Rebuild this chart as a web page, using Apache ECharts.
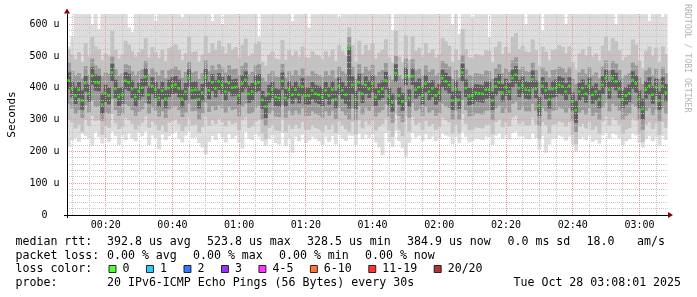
<!DOCTYPE html>
<html><head><meta charset="utf-8">
<script src="https://cdn.jsdelivr.net/npm/echarts@6/dist/echarts.min.js"></script>
<style>html,body{margin:0;padding:0;background:#fff}#c{width:697px;height:297px}</style>
</head><body><div id="c"></div>
<script>
// ---- data ----
const startMinute = 8.4;   // 00:08:24
const stepMinutes = 1;
const median = [
423,397,375,394,360,415,381,438,417,415,
347,383,375,448,397,371,378,422,417,396,
371,390,400,434,378,406,394,368,391,365,
399,406,410,398,365,388,430,392,394,364,
385,431,392,417,397,420,409,388,415,400,
402,375,413,425,381,388,413,417,362,341,
381,394,371,368,422,368,394,378,394,378,
404,375,375,392,381,378,371,392,375,394,
364,406,392,378,524,409,362,417,381,409,
396,413,371,388,396,423,373,354,446,375,
357,436,368,436,394,402,375,413,388,398,
375,385,430,420,409,360,396,362,448,399,
373,375,385,383,381,394,394,360,404,417,
385,402,388,430,441,399,409,394,392,427,
396,343,406,392,364,396,399,409,404,388,
406,357,329,388,399,381,406,378,388,364,
409,430,394,430,420,396,364,375,383,425,
413,364,333,394,406,378,402,360,406,385];
const smokeInnerHi = [
448,421,404,418,392,437,410,465,442,438,
382,410,401,476,425,399,402,449,444,423,
398,416,428,462,404,433,419,397,420,392,
425,433,437,426,394,415,458,418,420,391,
412,459,419,443,424,446,435,415,440,426,
428,402,440,452,407,415,440,443,390,372,
409,420,398,395,448,396,421,405,420,404,
431,402,401,418,408,405,398,419,402,421,
391,433,418,405,528,436,390,444,408,436,
422,440,398,414,423,450,400,382,474,402,
384,463,395,462,420,429,402,440,415,424,
402,412,457,447,436,388,423,390,476,426,
400,401,411,410,408,421,420,388,431,443,
412,429,415,457,468,425,436,421,418,454,
423,372,433,419,392,422,426,436,431,415,
433,385,360,415,426,408,432,405,414,392,
436,457,421,456,447,423,392,402,410,452,
440,392,365,421,433,405,429,388,433,412];
const smokeInnerLo = [
396,370,349,368,331,388,356,410,391,389,
318,355,348,420,368,343,350,396,390,368,
342,363,372,405,350,380,367,340,364,336,
371,380,383,370,338,360,402,364,366,335,
357,402,364,390,370,393,381,360,388,373,
375,347,386,398,353,360,386,390,334,305,
353,367,343,340,394,341,366,350,367,351,
376,347,348,364,353,349,340,365,347,366,
336,378,365,350,335,381,333,389,352,381,
368,386,343,361,368,395,345,325,418,347,
328,408,340,409,366,374,347,386,360,371,
347,357,403,392,382,331,368,334,420,371,
345,348,357,355,353,366,367,331,376,390,
357,374,360,402,413,371,382,366,364,399,
368,312,378,364,335,369,371,381,376,360,
378,328,290,360,371,353,378,350,360,336,
381,402,366,403,392,368,336,347,355,397,
385,335,300,366,378,350,374,331,378,357];
const smokeMidHi = [
480,452,440,446,430,468,441,492,470,462,
436,448,444,498,458,437,445,474,470,452,
440,452,458,484,442,462,450,438,455,430,
455,462,466,455,432,450,482,448,452,428,
446,486,452,470,456,474,464,448,470,458,
460,440,468,480,442,450,470,474,432,420,
444,452,436,434,475,432,452,440,455,440,
462,438,436,452,444,440,434,452,440,455,
430,466,452,444,560,466,428,474,446,466,
454,472,436,450,456,478,438,426,500,440,
428,492,432,490,454,460,440,470,450,458,
440,446,484,476,466,428,456,432,504,458,
440,438,446,444,442,454,452,428,462,474,
446,462,450,486,496,458,466,452,450,480,
456,420,464,452,432,456,458,466,462,448,
464,428,412,448,458,444,464,440,448,430,
466,486,454,484,476,456,432,440,446,480,
470,432,412,454,464,440,462,428,464,446];
const smokeMidLo = [
350,335,318,330,305,345,322,360,340,342,
296,322,318,365,330,312,318,348,342,330,
312,325,332,352,318,338,328,310,326,305,
332,338,342,330,308,322,350,326,328,300,
320,352,324,342,330,345,336,322,340,330,
334,310,340,350,318,322,338,344,300,280,
318,328,310,308,346,306,328,314,328,316,
336,312,312,326,318,314,306,326,312,328,
302,338,326,314,300,336,298,342,316,338,
328,342,310,322,330,348,310,290,360,312,
292,355,306,352,328,334,312,340,322,330,
312,320,350,342,336,300,328,300,362,330,
310,312,320,318,316,328,328,298,336,344,
320,336,322,350,356,330,338,326,326,350,
328,280,336,326,300,328,330,338,334,322,
336,296,260,322,330,316,336,312,322,300,
338,352,326,350,342,328,300,312,318,348,
340,300,268,328,336,314,332,296,336,318];
const smokeWideHi = [
520,505,490,512,482,540,498,560,530,522,
488,508,500,578,520,492,505,548,536,515,
498,512,522,556,496,528,512,494,520,484,
525,530,536,520,488,508,560,512,515,482,
505,564,510,540,520,548,530,508,540,520,
528,495,535,555,500,508,538,545,482,470,
505,515,492,490,550,488,518,500,516,498,
530,496,494,515,504,500,490,515,498,520,
484,534,516,502,590,534,482,548,505,535,
518,540,492,510,520,552,496,478,580,498,
480,565,488,562,516,526,498,540,510,522,
496,506,556,546,532,482,520,488,585,522,
496,494,506,504,500,518,516,482,528,545,
506,528,510,560,572,522,532,514,512,552,
518,470,530,514,486,518,522,534,528,508,
530,480,458,508,522,502,530,498,508,486,
532,560,516,556,546,518,486,498,504,552,
536,486,462,516,530,500,526,482,530,506];
const smokeWideLo = [
300,290,272,285,262,300,280,312,296,298,
252,280,274,318,288,270,276,305,298,286,
268,282,290,310,274,294,284,266,282,262,
290,295,300,286,264,278,306,282,284,258,
276,308,280,298,286,302,292,278,296,286,
290,266,298,306,274,278,294,300,256,238,
274,284,266,264,302,262,284,270,284,272,
292,268,268,282,274,270,262,282,268,284,
258,294,282,270,262,292,254,298,272,294,
284,298,266,278,286,304,266,246,316,268,
248,312,262,308,284,290,268,296,278,286,
268,276,306,298,292,256,284,256,318,286,
266,268,276,274,272,284,284,254,292,300,
276,292,278,306,312,286,294,282,282,306,
284,238,292,282,256,284,286,294,290,278,
292,252,222,278,286,272,292,268,278,256,
294,308,282,306,298,284,256,268,274,304,
296,256,230,284,292,270,288,252,292,274];
const smokeOuterHi = [
530,560,660,660,660,660,660,600,660,585,
660,660,660,660,660,660,660,660,590,575,
660,660,660,660,660,660,610,660,660,660,
660,660,660,660,620,660,660,660,660,660,
660,660,660,610,660,660,600,660,660,660,
660,660,660,660,660,660,660,560,660,660,
660,660,660,660,660,660,660,610,660,660,
660,660,590,660,660,660,660,660,660,660,
660,620,660,660,660,660,660,660,660,660,
660,660,660,660,660,660,660,580,660,660,
660,660,660,660,660,660,660,660,660,660,
660,660,660,660,660,600,660,570,660,660,
660,620,660,660,660,660,560,660,660,660,
660,660,660,660,660,660,660,600,660,660,
660,660,580,660,660,660,660,660,660,600,
660,660,660,660,660,660,660,660,660,660,
660,660,660,660,600,660,660,660,660,660,
660,660,660,660,610,660,660,660,620,660];
const smokeOuterLo = [
215,235,242,230,255,248,238,218,260,245,
225,242,230,262,248,220,250,236,256,240,
232,258,248,262,220,250,240,206,252,235,
248,256,262,240,228,250,262,242,244,226,
212,190,230,248,236,256,244,228,254,240,
248,228,208,262,240,236,254,246,232,218,
240,250,226,222,258,218,240,196,246,232,
252,226,234,246,240,232,220,246,230,248,
222,252,240,232,250,248,220,256,238,252,
242,254,228,212,188,258,230,214,264,232,
210,184,226,258,244,250,232,254,238,246,
232,240,256,250,246,222,246,226,262,246,
228,232,240,238,236,246,244,220,250,256,
240,250,238,258,262,246,248,240,238,256,
242,206,248,196,222,240,242,250,246,234,
246,222,200,238,244,236,250,230,236,224,
250,258,240,256,252,242,220,232,238,256,
250,226,212,240,248,232,246,218,248,236];

const xMajorTicks = [20, 40, 60, 80, 100, 120, 140, 160, 180];
const xTickLabels = ['00:20','00:40','01:00','01:20','01:40','02:00','02:20','02:40','03:00'];
const xMinorTicks = [10,15,25,30,35,45,50,55,65,70,75,85,90,95,105,110,115,125,130,135,145,150,155,165,170,175,185];
const yMajorTicks = [0, 100, 200, 300, 400, 500, 600];
const yTickLabels = ['0  ','100 u','200 u','300 u','400 u','500 u','600 u'];
const yMinorTicks = [20,40,60,80,120,140,160,180,220,240,260,280,320,340,360,380,420,440,460,480,520,540,560,580,620];

const lossLabels = ['0','1','2','3','4-5','6-10','11-19','20/20'];
const lossColors = ['#26ff00','#00b8ff','#0059ff','#7e00ff','#ff00ff','#ff5500','#ff0000','#a10000'];

const medianStatsLabel = 'median rtt:';
const medianStats = ['392.8 us avg','523.8 us max','328.5 us min','384.9 us now','0.0 ms sd','18.0','am/s'];
const lossStatsLabel = 'packet loss:';
const lossStats = ['0.00 % avg','0.00 % max','0.00 % min','0.00 % now'];
const lossColorLabel = 'loss color:';
const probeLabel = 'probe:';
const probeText = '20 IPv6-ICMP Echo Pings (56 Bytes) every 30s';
const dateText = 'Tue Oct 28 03:08:01 2025';
const watermark = 'RRDTOOL / TOBI OETIKER';

// ---- chart ----
const FONT = 'DejaVu Sans Mono';
const times = median.map((_, i) => startMinute + i * stepMinutes);
const xMax = startMinute + median.length * stepMinutes;
const yMax = 632;

function bandSeries(lo, hi, color) {
  return {
    type: 'custom', z: -1, silent: true, animation: false,
    encode: { x: 0, y: [1, 2] },
    data: times.map((t, i) => [t, lo[i], hi[i]]),
    renderItem: function (params, api) {
      const t = api.value(0);
      const p1 = api.coord([t, api.value(2)]);
      const p2 = api.coord([t + stepMinutes, api.value(1)]);
      const cs = params.coordSys;
      const shape = echarts.graphic.clipRectByRect(
        { x: p1[0], y: p1[1], width: p2[0] - p1[0] + 0.6, height: p2[1] - p1[1] },
        { x: cs.x, y: cs.y, width: cs.width, height: cs.height });
      return shape && { type: 'rect', shape: shape, style: { fill: color } };
    }
  };
}

// dotted grid lines, snapped to whole pixels like rrdtool draws them
function gridSeries(values, vertical, color) {
  return {
    type: 'custom', z: 1, silent: true, animation: false,
    encode: { x: 0, y: 1 },
    data: values.map(v => vertical ? [v, 0] : [startMinute, v]),
    renderItem: function (params, api) {
      const cs = params.coordSys;
      const p = api.coord([api.value(0), api.value(1)]);
      let shape;
      if (vertical) {
        const x = Math.floor(p[0]) + 0.5;
        shape = { x1: x, y1: cs.y, x2: x, y2: cs.y + cs.height };
      } else {
        const y = Math.floor(p[1]) + 0.5;
        shape = { x1: cs.x, y1: y, x2: cs.x + cs.width, y2: y };
      }
      return { type: 'line', shape: shape, style: { stroke: color, lineWidth: 1, lineDash: [1, 1] } };
    }
  };
}

const majorColor = '#e99c9c';
const minorColor = '#c6c6c6';
const arrowColor = '#8b0000';

const legendSeries = lossLabels.slice(1).map((name, k) => ({
  type: 'scatter', name: name, data: [], itemStyle: { color: lossColors[k + 1] }
}));

function txt(x, y, text, extra) {
  return Object.assign({ type: 'text', x: x, y: y, silent: true,
    style: { text: text, font: '11.6px "' + FONT + '"', fill: '#000', verticalAlign: 'middle' } }, extra || {});
}
const rowY = [241.5, 255.5, 269, 283];
const medX = [107, 207, 307, 407, 507.5, 586.5, 637];
const lossX = [107, 193, 279, 365];
const graphics = [txt(15.5, rowY[0], medianStatsLabel)];
medianStats.forEach((s, k) => graphics.push(txt(medX[k], rowY[0], s)));
graphics.push(txt(15.5, rowY[1], lossStatsLabel));
lossStats.forEach((s, k) => graphics.push(txt(lossX[k], rowY[1], s)));
graphics.push(txt(15.5, rowY[2], lossColorLabel));
graphics.push(txt(15.5, rowY[3], probeLabel));
graphics.push(txt(107, rowY[3], probeText));
graphics.push(txt(513.5, rowY[3], dateText));
graphics.push({ type: 'text', x: 687, y: 4, rotation: -Math.PI / 2, silent: true,
  style: { text: watermark, font: '8.2px "' + FONT + '"', fill: '#b4b4b4', verticalAlign: 'middle' } });

const chart = echarts.init(document.getElementById('c'), null, { renderer: 'canvas', width: 697, height: 297 });
chart.setOption({
  animation: false,
  backgroundColor: '#ffffff',
  grid: { left: 67, right: 29.5, top: 14, bottom: 82, containLabel: false, outerBoundsMode: 'none' },
  xAxis: [
    { type: 'value', min: startMinute, max: xMax, position: 'bottom', z: 3,
      axisLine: { show: true, onZero: false, lineStyle: { color: '#000', width: 1 } },
      axisTick: { show: true, length: 3, customValues: [startMinute], lineStyle: { color: '#000' } },
      axisLabel: { customValues: xMajorTicks, margin: 5, fontFamily: FONT, fontSize: 10, color: '#000',
        formatter: v => xTickLabels[xMajorTicks.indexOf(Math.round(v))] || '' },
      splitLine: { show: false } },
    { type: 'value', min: startMinute, max: xMax, position: 'bottom', z: 3,
      axisLine: { show: true, onZero: false, lineStyle: { color: arrowColor, width: 0 },
        symbol: ['none', 'triangle'], symbolSize: [6, 5], symbolOffset: [0, 3] },
      axisTick: { show: false }, axisLabel: { show: false }, splitLine: { show: false } }
  ],
  yAxis: [
    { type: 'value', min: 0, max: yMax, position: 'left', z: 3,
      name: 'Seconds', nameLocation: 'middle', nameGap: 49, nameRotate: 90,
      nameTextStyle: { fontFamily: FONT, fontSize: 11, color: '#000' },
      axisLine: { show: true, onZero: false, lineStyle: { color: '#000', width: 1 } },
      axisTick: { show: true, length: 3, customValues: [0], lineStyle: { color: '#000' } },
      axisLabel: { customValues: yMajorTicks, margin: 7.5, fontFamily: FONT, fontSize: 10, color: '#000',
        formatter: v => yTickLabels[yMajorTicks.indexOf(Math.round(v))] || '' },
      splitLine: { show: false } },
    { type: 'value', min: 0, max: yMax, position: 'left', z: 3,
      axisLine: { show: true, onZero: false, lineStyle: { color: arrowColor, width: 0 },
        symbol: ['none', 'triangle'], symbolSize: [6, 5], symbolOffset: [0, 3] },
      axisTick: { show: false }, axisLabel: { show: false }, splitLine: { show: false } }
  ],
  legend: {
    data: lossLabels, left: 108.5, top: 263, padding: 0, itemGap: 16.5,
    itemWidth: 7, itemHeight: 7, icon: 'rect', selectedMode: false,
    itemStyle: { borderColor: '#000', borderWidth: 1 },
    textStyle: { fontFamily: FONT, fontSize: 11.6, color: '#000', lineHeight: 12, padding: [0, 0, 0, 1.5] }
  },
  graphic: graphics,
  series: [
    bandSeries(smokeOuterLo, smokeOuterHi, '#dddddd'),
    bandSeries(smokeWideLo, smokeWideHi, '#c2c2c2'),
    bandSeries(smokeMidLo, smokeMidHi, '#999999'),
    bandSeries(smokeInnerLo, smokeInnerHi, '#5e5e5e'),
    gridSeries(xMinorTicks, true, minorColor),
    gridSeries(yMinorTicks, false, minorColor),
    gridSeries(xMajorTicks, true, majorColor),
    gridSeries(yMajorTicks.filter(v => v > 0), false, majorColor),
    { type: 'scatter', name: lossLabels[0], z: 5, silent: true,
      data: times.map((t, i) => [t + stepMinutes / 2, median[i]]),
      symbol: 'rect', symbolSize: [2.6, 2.6], itemStyle: { color: lossColors[0] } }
  ].concat(legendSeries)
});
</script>
</body></html>
